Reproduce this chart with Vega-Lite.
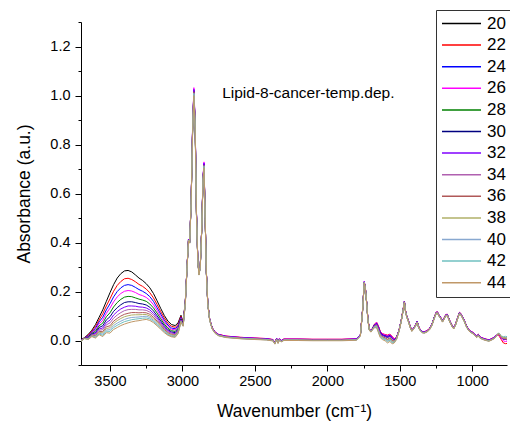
{
"$schema": "https://vega.github.io/schema/vega-lite/v6.json",
"width": 426, "height": 343,
"autosize": {"type": "none"},
"padding": {"left": 81, "top": 22, "right": 3, "bottom": 65},
"background": "white",
"config": {"font": "Liberation Sans", "view": {"stroke": null},
 "axis": {"grid": false, "domainColor": "#000", "tickColor": "#000", "labelColor": "#000", "titleColor": "#000", "labelFont": "Liberation Sans", "titleFont": "Liberation Sans", "titleFontWeight": "normal", "domainWidth": 1, "tickWidth": 1}},
"datasets": {"spectra": [
{"w":3700,"20":0.003,"22":0.002,"24":0.001,"26":0.001,"28":0,"30":-0.001,"32":-0.001,"34":-0.001,"36":-0.002,"38":-0.002,"40":-0.002,"42":-0.003,"44":-0.003},
{"w":3675,"20":0.012,"22":0.011,"24":0.011,"26":0.010,"28":0.010,"30":0.010,"32":0.009,"34":0.009,"36":0.009,"38":0.009,"40":0.008,"42":0.008,"44":0.008},
{"w":3650,"20":0.025,"22":0.022,"24":0.019,"26":0.017,"28":0.015,"30":0.012,"32":0.011,"34":0.009,"36":0.008,"38":0.007,"40":0.006,"42":0.005,"44":0.004},
{"w":3625,"20":0.042,"22":0.038,"24":0.035,"26":0.032,"28":0.029,"30":0.026,"32":0.024,"34":0.023,"36":0.021,"38":0.020,"40":0.018,"42":0.017,"44":0.016},
{"w":3600,"20":0.065,"22":0.057,"24":0.050,"26":0.044,"28":0.038,"30":0.032,"32":0.028,"34":0.024,"36":0.020,"38":0.017,"40":0.015,"42":0.012,"44":0.010},
{"w":3575,"20":0.095,"22":0.084,"24":0.076,"26":0.068,"28":0.060,"30":0.053,"32":0.047,"34":0.042,"36":0.037,"38":0.034,"40":0.030,"42":0.027,"44":0.024},
{"w":3550,"20":0.125,"22":0.109,"24":0.095,"26":0.083,"28":0.071,"30":0.060,"32":0.051,"34":0.044,"36":0.036,"38":0.031,"40":0.026,"42":0.021,"44":0.016},
{"w":3525,"20":0.160,"22":0.141,"24":0.125,"26":0.111,"28":0.097,"30":0.084,"32":0.073,"34":0.064,"36":0.056,"38":0.049,"40":0.043,"42":0.038,"44":0.032},
{"w":3500,"20":0.195,"22":0.170,"24":0.150,"26":0.132,"28":0.113,"30":0.097,"32":0.083,"34":0.072,"36":0.060,"38":0.052,"40":0.044,"42":0.037,"44":0.030},
{"w":3475,"20":0.228,"22":0.201,"24":0.178,"26":0.158,"28":0.137,"30":0.119,"32":0.104,"34":0.091,"36":0.079,"38":0.070,"40":0.061,"42":0.053,"44":0.045},
{"w":3450,"20":0.255,"22":0.225,"24":0.200,"26":0.178,"28":0.155,"30":0.134,"32":0.118,"34":0.104,"36":0.090,"38":0.081,"40":0.071,"42":0.062,"44":0.053},
{"w":3425,"20":0.273,"22":0.241,"24":0.215,"26":0.192,"28":0.168,"30":0.146,"32":0.129,"34":0.114,"36":0.100,"38":0.090,"40":0.079,"42":0.070,"44":0.061},
{"w":3400,"20":0.284,"22":0.252,"24":0.225,"26":0.201,"28":0.177,"30":0.155,"32":0.136,"34":0.122,"36":0.107,"38":0.097,"40":0.086,"42":0.077,"44":0.067},
{"w":3375,"20":0.286,"22":0.254,"24":0.228,"26":0.204,"28":0.180,"30":0.158,"32":0.141,"34":0.126,"36":0.111,"38":0.101,"40":0.091,"42":0.081,"44":0.072},
{"w":3350,"20":0.280,"22":0.249,"24":0.225,"26":0.202,"28":0.179,"30":0.158,"32":0.141,"34":0.127,"36":0.114,"38":0.104,"40":0.094,"42":0.085,"44":0.076},
{"w":3325,"20":0.268,"22":0.240,"24":0.217,"26":0.196,"28":0.174,"30":0.155,"32":0.140,"34":0.127,"36":0.114,"38":0.105,"40":0.095,"42":0.087,"44":0.079},
{"w":3300,"20":0.255,"22":0.229,"24":0.208,"26":0.188,"28":0.169,"30":0.151,"32":0.137,"34":0.125,"36":0.113,"38":0.105,"40":0.096,"42":0.089,"44":0.081},
{"w":3275,"20":0.245,"22":0.221,"24":0.201,"26":0.183,"28":0.165,"30":0.149,"32":0.136,"34":0.125,"36":0.114,"38":0.106,"40":0.098,"42":0.091,"44":0.084},
{"w":3250,"20":0.232,"22":0.210,"24":0.192,"26":0.176,"28":0.160,"30":0.145,"32":0.133,"34":0.123,"36":0.113,"38":0.106,"40":0.099,"42":0.092,"44":0.086},
{"w":3225,"20":0.215,"22":0.195,"24":0.179,"26":0.164,"28":0.149,"30":0.136,"32":0.125,"34":0.116,"36":0.107,"38":0.100,"40":0.094,"42":0.088,"44":0.082},
{"w":3200,"20":0.192,"22":0.174,"24":0.160,"26":0.146,"28":0.133,"30":0.121,"32":0.111,"34":0.103,"36":0.095,"38":0.089,"40":0.083,"42":0.078,"44":0.073},
{"w":3175,"20":0.162,"22":0.147,"24":0.134,"26":0.123,"28":0.112,"30":0.101,"32":0.093,"34":0.086,"36":0.079,"38":0.074,"40":0.069,"42":0.065,"44":0.060},
{"w":3150,"20":0.131,"22":0.118,"24":0.108,"26":0.098,"28":0.089,"30":0.080,"32":0.073,"34":0.067,"36":0.062,"38":0.058,"40":0.053,"42":0.050,"44":0.046},
{"w":3125,"20":0.102,"22":0.092,"24":0.083,"26":0.075,"28":0.067,"30":0.060,"32":0.054,"34":0.050,"36":0.045,"38":0.042,"40":0.038,"42":0.035,"44":0.032},
{"w":3100,"20":0.079,"22":0.070,"24":0.063,"26":0.057,"28":0.050,"30":0.044,"32":0.040,"34":0.036,"36":0.032,"38":0.029,"40":0.026,"42":0.024,"44":0.021},
{"w":3075,"20":0.065,"22":0.058,"24":0.051,"26":0.046,"28":0.040,"30":0.035,"32":0.031,"34":0.028,"36":0.024,"38":0.022,"40":0.019,"42":0.017,"44":0.015},
{"w":3050,"20":0.061,"22":0.054,"24":0.048,"26":0.043,"28":0.037,"30":0.032,"32":0.028,"34":0.025,"36":0.022,"38":0.020,"40":0.017,"42":0.015,"44":0.013},
{"w":3030,"20":0.072,"22":0.065,"24":0.060,"26":0.055,"28":0.050,"30":0.046,"32":0.042,"34":0.039,"36":0.036,"38":0.034,"40":0.032,"42":0.030,"44":0.028},
{"w":3010,"20":0.103,"22":0.099,"24":0.095,"26":0.092,"28":0.089,"30":0.086,"32":0.084,"34":0.082,"36":0.080,"38":0.079,"40":0.077,"42":0.076,"44":0.075},
{"w":2995,"20":0.075,"22":0.072,"24":0.070,"26":0.068,"28":0.067,"30":0.065,"32":0.063,"34":0.062,"36":0.061,"38":0.060,"40":0.059,"42":0.059,"44":0.058},
{"w":2980,"20":0.162,"22":0.160,"24":0.159,"26":0.158,"28":0.157,"30":0.156,"32":0.155,"34":0.154,"36":0.153,"38":0.152,"40":0.151,"42":0.150,"44":0.150},
{"w":2968,"20":0.302,"22":0.303,"24":0.301,"26":0.303,"28":0.300,"30":0.301,"32":0.302,"34":0.300,"36":0.299,"38":0.299,"40":0.298,"42":0.298,"44":0.297},
{"w":2958,"20":0.412,"22":0.413,"24":0.411,"26":0.413,"28":0.410,"30":0.411,"32":0.412,"34":0.410,"36":0.409,"38":0.409,"40":0.408,"42":0.408,"44":0.407},
{"w":2950,"20":0.402,"22":0.403,"24":0.401,"26":0.403,"28":0.400,"30":0.401,"32":0.402,"34":0.400,"36":0.399,"38":0.399,"40":0.398,"42":0.398,"44":0.397},
{"w":2940,"20":0.562,"22":0.563,"24":0.561,"26":0.563,"28":0.560,"30":0.561,"32":0.562,"34":0.560,"36":0.559,"38":0.559,"40":0.558,"42":0.558,"44":0.557},
{"w":2930,"20":0.847,"22":0.860,"24":0.864,"26":0.870,"28":0.856,"30":0.860,"32":0.864,"34":0.851,"36":0.856,"38":0.847,"40":0.851,"42":0.847,"44":0.843},
{"w":2921,"20":1.005,"22":1.020,"24":1.025,"26":1.032,"28":1.015,"30":1.020,"32":1.025,"34":1.010,"36":1.015,"38":1.005,"40":1.010,"42":1.005,"44":1.000},
{"w":2912,"20":0.867,"22":0.880,"24":0.884,"26":0.891,"28":0.876,"30":0.880,"32":0.884,"34":0.871,"36":0.876,"38":0.867,"40":0.871,"42":0.867,"44":0.862},
{"w":2903,"20":0.512,"22":0.520,"24":0.523,"26":0.526,"28":0.517,"30":0.520,"32":0.523,"34":0.515,"36":0.517,"38":0.512,"40":0.515,"42":0.512,"44":0.510},
{"w":2894,"20":0.332,"22":0.333,"24":0.331,"26":0.333,"28":0.330,"30":0.331,"32":0.332,"34":0.330,"36":0.329,"38":0.329,"40":0.328,"42":0.328,"44":0.327},
{"w":2886,"20":0.272,"22":0.273,"24":0.271,"26":0.273,"28":0.270,"30":0.271,"32":0.272,"34":0.270,"36":0.269,"38":0.269,"40":0.268,"42":0.268,"44":0.267},
{"w":2877,"20":0.302,"22":0.303,"24":0.301,"26":0.303,"28":0.300,"30":0.301,"32":0.302,"34":0.300,"36":0.299,"38":0.299,"40":0.298,"42":0.298,"44":0.297},
{"w":2867,"20":0.452,"22":0.453,"24":0.451,"26":0.453,"28":0.450,"30":0.451,"32":0.452,"34":0.450,"36":0.449,"38":0.449,"40":0.448,"42":0.448,"44":0.447},
{"w":2858,"20":0.650,"22":0.660,"24":0.663,"26":0.668,"28":0.657,"30":0.660,"32":0.663,"34":0.653,"36":0.657,"38":0.650,"40":0.653,"42":0.650,"44":0.647},
{"w":2851,"20":0.709,"22":0.720,"24":0.724,"26":0.729,"28":0.716,"30":0.720,"32":0.724,"34":0.713,"36":0.716,"38":0.709,"40":0.713,"42":0.709,"44":0.706},
{"w":2843,"20":0.502,"22":0.503,"24":0.501,"26":0.503,"28":0.500,"30":0.501,"32":0.502,"34":0.500,"36":0.499,"38":0.499,"40":0.498,"42":0.498,"44":0.497},
{"w":2835,"20":0.282,"22":0.283,"24":0.281,"26":0.283,"28":0.280,"30":0.281,"32":0.282,"34":0.280,"36":0.279,"38":0.279,"40":0.278,"42":0.278,"44":0.277},
{"w":2825,"20":0.152,"22":0.153,"24":0.151,"26":0.153,"28":0.150,"30":0.151,"32":0.152,"34":0.150,"36":0.149,"38":0.149,"40":0.148,"42":0.148,"44":0.147},
{"w":2812,"20":0.087,"22":0.088,"24":0.086,"26":0.088,"28":0.085,"30":0.086,"32":0.087,"34":0.085,"36":0.084,"38":0.084,"40":0.083,"42":0.083,"44":0.082},
{"w":2795,"20":0.052,"22":0.053,"24":0.051,"26":0.053,"28":0.050,"30":0.051,"32":0.052,"34":0.050,"36":0.049,"38":0.049,"40":0.048,"42":0.048,"44":0.047},
{"w":2775,"20":0.034,"22":0.035,"24":0.033,"26":0.035,"28":0.032,"30":0.033,"32":0.034,"34":0.032,"36":0.031,"38":0.031,"40":0.030,"42":0.030,"44":0.029},
{"w":2750,"20":0.024,"22":0.025,"24":0.023,"26":0.025,"28":0.022,"30":0.023,"32":0.024,"34":0.022,"36":0.021,"38":0.021,"40":0.020,"42":0.020,"44":0.019},
{"w":2700,"20":0.017,"22":0.018,"24":0.016,"26":0.018,"28":0.015,"30":0.016,"32":0.017,"34":0.015,"36":0.014,"38":0.014,"40":0.013,"42":0.013,"44":0.012},
{"w":2600,"20":0.012,"22":0.013,"24":0.011,"26":0.013,"28":0.010,"30":0.011,"32":0.012,"34":0.010,"36":0.009,"38":0.009,"40":0.008,"42":0.008,"44":0.007},
{"w":2500,"20":0.009,"22":0.010,"24":0.008,"26":0.010,"28":0.007,"30":0.008,"32":0.009,"34":0.007,"36":0.006,"38":0.006,"40":0.005,"42":0.005,"44":0.004},
{"w":2420,"20":0.007,"22":0.008,"24":0.006,"26":0.008,"28":0.005,"30":0.006,"32":0.007,"34":0.005,"36":0.004,"38":0.004,"40":0.003,"42":0.003,"44":0.002},
{"w":2375,"20":0.003,"22":0.004,"24":0.002,"26":0.004,"28":0.001,"30":0.002,"32":0.003,"34":0.001,"36":0.000,"38":0.000,"40":-0.001,"42":-0.001,"44":-0.002},
{"w":2362,"20":-0.010,"22":-0.009,"24":-0.011,"26":-0.009,"28":-0.012,"30":-0.011,"32":-0.010,"34":-0.012,"36":-0.013,"38":-0.013,"40":-0.014,"42":-0.014,"44":-0.015},
{"w":2350,"20":0.008,"22":0.009,"24":0.007,"26":0.009,"28":0.006,"30":0.007,"32":0.008,"34":0.006,"36":0.005,"38":0.005,"40":0.004,"42":0.004,"44":0.003},
{"w":2340,"20":-0.007,"22":-0.006,"24":-0.008,"26":-0.006,"28":-0.009,"30":-0.008,"32":-0.007,"34":-0.009,"36":-0.010,"38":-0.010,"40":-0.011,"42":-0.011,"44":-0.012},
{"w":2330,"20":0.007,"22":0.008,"24":0.006,"26":0.008,"28":0.005,"30":0.006,"32":0.007,"34":0.005,"36":0.004,"38":0.004,"40":0.003,"42":0.003,"44":0.002},
{"w":2318,"20":-0.001,"22":0.000,"24":-0.002,"26":0.000,"28":-0.003,"30":-0.002,"32":-0.001,"34":-0.003,"36":-0.004,"38":-0.004,"40":-0.005,"42":-0.005,"44":-0.006},
{"w":2300,"20":0.005,"22":0.006,"24":0.004,"26":0.006,"28":0.003,"30":0.004,"32":0.005,"34":0.003,"36":0.002,"38":0.002,"40":0.001,"42":0.001,"44":0.000},
{"w":2200,"20":0.005,"22":0.006,"24":0.004,"26":0.006,"28":0.003,"30":0.004,"32":0.005,"34":0.003,"36":0.002,"38":0.002,"40":0.001,"42":0.001,"44":0.000},
{"w":2100,"20":0.004,"22":0.005,"24":0.003,"26":0.005,"28":0.002,"30":0.003,"32":0.004,"34":0.002,"36":0.001,"38":0.001,"40":0.000,"42":0.000,"44":-0.001},
{"w":2000,"20":0.004,"22":0.005,"24":0.003,"26":0.005,"28":0.002,"30":0.003,"32":0.004,"34":0.002,"36":0.001,"38":0.001,"40":0.000,"42":0.000,"44":-0.001},
{"w":1900,"20":0.004,"22":0.005,"24":0.003,"26":0.005,"28":0.002,"30":0.003,"32":0.004,"34":0.002,"36":0.001,"38":0.001,"40":0.000,"42":0.000,"44":-0.001},
{"w":1800,"20":0.006,"22":0.007,"24":0.005,"26":0.007,"28":0.004,"30":0.005,"32":0.006,"34":0.004,"36":0.003,"38":0.003,"40":0.002,"42":0.002,"44":0.001},
{"w":1772,"20":0.022,"22":0.023,"24":0.021,"26":0.023,"28":0.020,"30":0.021,"32":0.022,"34":0.020,"36":0.019,"38":0.019,"40":0.018,"42":0.018,"44":0.017},
{"w":1757,"20":0.122,"22":0.123,"24":0.121,"26":0.123,"28":0.120,"30":0.121,"32":0.122,"34":0.120,"36":0.119,"38":0.119,"40":0.118,"42":0.118,"44":0.117},
{"w":1745,"20":0.236,"22":0.239,"24":0.240,"26":0.241,"28":0.238,"30":0.239,"32":0.240,"34":0.237,"36":0.238,"38":0.236,"40":0.237,"42":0.236,"44":0.235},
{"w":1737,"20":0.212,"22":0.213,"24":0.211,"26":0.213,"28":0.210,"30":0.211,"32":0.212,"34":0.210,"36":0.209,"38":0.209,"40":0.208,"42":0.208,"44":0.207},
{"w":1728,"20":0.152,"22":0.153,"24":0.151,"26":0.153,"28":0.150,"30":0.151,"32":0.152,"34":0.150,"36":0.149,"38":0.149,"40":0.148,"42":0.148,"44":0.147},
{"w":1720,"20":0.087,"22":0.088,"24":0.086,"26":0.088,"28":0.085,"30":0.086,"32":0.087,"34":0.085,"36":0.084,"38":0.084,"40":0.083,"42":0.083,"44":0.082},
{"w":1710,"20":0.047,"22":0.048,"24":0.046,"26":0.048,"28":0.045,"30":0.046,"32":0.047,"34":0.045,"36":0.044,"38":0.044,"40":0.043,"42":0.043,"44":0.042},
{"w":1700,"20":0.039,"22":0.040,"24":0.038,"26":0.040,"28":0.037,"30":0.038,"32":0.039,"34":0.037,"36":0.036,"38":0.036,"40":0.035,"42":0.035,"44":0.034},
{"w":1688,"20":0.050,"22":0.050,"24":0.049,"26":0.050,"28":0.048,"30":0.048,"32":0.048,"34":0.047,"36":0.046,"38":0.045,"40":0.045,"42":0.044,"44":0.043},
{"w":1675,"20":0.065,"22":0.066,"24":0.064,"26":0.065,"28":0.062,"30":0.063,"32":0.062,"34":0.059,"36":0.058,"38":0.057,"40":0.056,"42":0.054,"44":0.052},
{"w":1660,"20":0.073,"22":0.075,"24":0.072,"26":0.074,"28":0.068,"30":0.069,"32":0.069,"34":0.064,"36":0.062,"38":0.060,"40":0.058,"42":0.055,"44":0.052},
{"w":1648,"20":0.058,"22":0.060,"24":0.056,"26":0.059,"28":0.052,"30":0.053,"32":0.052,"34":0.047,"36":0.045,"38":0.042,"40":0.040,"42":0.037,"44":0.033},
{"w":1635,"20":0.036,"22":0.038,"24":0.034,"26":0.037,"28":0.030,"30":0.032,"32":0.031,"34":0.025,"36":0.024,"38":0.021,"40":0.019,"42":0.016,"44":0.012},
{"w":1620,"20":0.026,"22":0.028,"24":0.024,"26":0.027,"28":0.021,"30":0.022,"32":0.021,"34":0.016,"36":0.015,"38":0.012,"40":0.010,"42":0.008,"44":0.004},
{"w":1600,"20":0.022,"22":0.024,"24":0.020,"26":0.023,"28":0.016,"30":0.018,"32":0.017,"34":0.011,"36":0.010,"38":0.007,"40":0.005,"42":0.002,"44":-0.002},
{"w":1585,"20":0.020,"22":0.022,"24":0.017,"26":0.020,"28":0.012,"30":0.014,"32":0.013,"34":0.006,"36":0.004,"38":0.001,"40":-0.002,"42":-0.005,"44":-0.010},
{"w":1568,"20":0.024,"22":0.026,"24":0.022,"26":0.025,"28":0.017,"30":0.019,"32":0.018,"34":0.011,"36":0.010,"38":0.007,"40":0.004,"42":0.001,"44":-0.004},
{"w":1552,"20":0.014,"22":0.016,"24":0.012,"26":0.015,"28":0.007,"30":0.009,"32":0.008,"34":0.001,"36":0.000,"38":-0.004,"40":-0.007,"42":-0.010,"44":-0.014},
{"w":1538,"20":0.005,"22":0.006,"24":0.004,"26":0.005,"28":0.001,"30":0.002,"32":0.002,"34":-0.002,"36":-0.003,"38":-0.004,"40":-0.006,"42":-0.008,"44":-0.010},
{"w":1522,"20":0.013,"22":0.014,"24":0.013,"26":0.014,"28":0.011,"30":0.012,"32":0.011,"34":0.009,"36":0.009,"38":0.008,"40":0.007,"42":0.006,"44":0.004},
{"w":1505,"20":0.042,"22":0.043,"24":0.041,"26":0.043,"28":0.040,"30":0.041,"32":0.042,"34":0.040,"36":0.039,"38":0.039,"40":0.038,"42":0.038,"44":0.037},
{"w":1490,"20":0.082,"22":0.083,"24":0.081,"26":0.083,"28":0.080,"30":0.081,"32":0.082,"34":0.080,"36":0.079,"38":0.079,"40":0.078,"42":0.078,"44":0.077},
{"w":1478,"20":0.122,"22":0.123,"24":0.121,"26":0.123,"28":0.120,"30":0.121,"32":0.122,"34":0.120,"36":0.119,"38":0.119,"40":0.118,"42":0.118,"44":0.117},
{"w":1468,"20":0.157,"22":0.159,"24":0.160,"26":0.161,"28":0.158,"30":0.159,"32":0.160,"34":0.157,"36":0.158,"38":0.156,"40":0.157,"42":0.156,"44":0.155},
{"w":1460,"20":0.120,"22":0.121,"24":0.119,"26":0.121,"28":0.118,"30":0.119,"32":0.120,"34":0.118,"36":0.117,"38":0.117,"40":0.116,"42":0.116,"44":0.115},
{"w":1452,"20":0.100,"22":0.101,"24":0.099,"26":0.101,"28":0.098,"30":0.099,"32":0.100,"34":0.098,"36":0.097,"38":0.097,"40":0.096,"42":0.096,"44":0.095},
{"w":1440,"20":0.080,"22":0.081,"24":0.079,"26":0.081,"28":0.078,"30":0.079,"32":0.080,"34":0.078,"36":0.077,"38":0.077,"40":0.076,"42":0.076,"44":0.075},
{"w":1428,"20":0.057,"22":0.058,"24":0.056,"26":0.058,"28":0.055,"30":0.056,"32":0.057,"34":0.055,"36":0.054,"38":0.054,"40":0.053,"42":0.053,"44":0.052},
{"w":1417,"20":0.042,"22":0.043,"24":0.041,"26":0.043,"28":0.040,"30":0.041,"32":0.042,"34":0.040,"36":0.039,"38":0.039,"40":0.038,"42":0.038,"44":0.037},
{"w":1405,"20":0.050,"22":0.051,"24":0.049,"26":0.051,"28":0.048,"30":0.049,"32":0.050,"34":0.048,"36":0.047,"38":0.047,"40":0.046,"42":0.046,"44":0.045},
{"w":1392,"20":0.062,"22":0.063,"24":0.061,"26":0.063,"28":0.060,"30":0.061,"32":0.062,"34":0.060,"36":0.059,"38":0.059,"40":0.058,"42":0.058,"44":0.057},
{"w":1380,"20":0.078,"22":0.079,"24":0.077,"26":0.079,"28":0.076,"30":0.077,"32":0.078,"34":0.076,"36":0.075,"38":0.075,"40":0.074,"42":0.074,"44":0.073},
{"w":1372,"20":0.060,"22":0.061,"24":0.059,"26":0.061,"28":0.058,"30":0.059,"32":0.060,"34":0.058,"36":0.057,"38":0.057,"40":0.056,"42":0.056,"44":0.055},
{"w":1362,"20":0.047,"22":0.048,"24":0.046,"26":0.048,"28":0.045,"30":0.046,"32":0.047,"34":0.045,"36":0.044,"38":0.044,"40":0.043,"42":0.043,"44":0.042},
{"w":1345,"20":0.036,"22":0.037,"24":0.035,"26":0.037,"28":0.034,"30":0.035,"32":0.036,"34":0.034,"36":0.033,"38":0.033,"40":0.032,"42":0.032,"44":0.031},
{"w":1330,"20":0.035,"22":0.036,"24":0.034,"26":0.036,"28":0.033,"30":0.034,"32":0.035,"34":0.033,"36":0.032,"38":0.032,"40":0.031,"42":0.031,"44":0.030},
{"w":1313,"20":0.039,"22":0.040,"24":0.038,"26":0.040,"28":0.037,"30":0.038,"32":0.039,"34":0.037,"36":0.036,"38":0.036,"40":0.035,"42":0.035,"44":0.034},
{"w":1295,"20":0.048,"22":0.049,"24":0.047,"26":0.049,"28":0.046,"30":0.047,"32":0.048,"34":0.046,"36":0.045,"38":0.045,"40":0.044,"42":0.044,"44":0.043},
{"w":1278,"20":0.066,"22":0.067,"24":0.065,"26":0.067,"28":0.064,"30":0.065,"32":0.066,"34":0.064,"36":0.063,"38":0.063,"40":0.062,"42":0.062,"44":0.061},
{"w":1262,"20":0.094,"22":0.095,"24":0.093,"26":0.095,"28":0.092,"30":0.093,"32":0.094,"34":0.092,"36":0.091,"38":0.091,"40":0.090,"42":0.090,"44":0.089},
{"w":1248,"20":0.115,"22":0.116,"24":0.114,"26":0.116,"28":0.113,"30":0.114,"32":0.115,"34":0.113,"36":0.112,"38":0.112,"40":0.111,"42":0.111,"44":0.110},
{"w":1240,"20":0.116,"22":0.117,"24":0.115,"26":0.117,"28":0.114,"30":0.115,"32":0.116,"34":0.114,"36":0.113,"38":0.113,"40":0.112,"42":0.112,"44":0.111},
{"w":1230,"20":0.104,"22":0.105,"24":0.103,"26":0.105,"28":0.102,"30":0.103,"32":0.104,"34":0.102,"36":0.101,"38":0.101,"40":0.100,"42":0.100,"44":0.099},
{"w":1218,"20":0.094,"22":0.095,"24":0.093,"26":0.095,"28":0.092,"30":0.093,"32":0.094,"34":0.092,"36":0.091,"38":0.091,"40":0.090,"42":0.090,"44":0.089},
{"w":1205,"20":0.080,"22":0.081,"24":0.079,"26":0.081,"28":0.078,"30":0.079,"32":0.080,"34":0.078,"36":0.077,"38":0.077,"40":0.076,"42":0.076,"44":0.075},
{"w":1195,"20":0.090,"22":0.091,"24":0.089,"26":0.091,"28":0.088,"30":0.089,"32":0.090,"34":0.088,"36":0.087,"38":0.087,"40":0.086,"42":0.086,"44":0.085},
{"w":1182,"20":0.105,"22":0.106,"24":0.104,"26":0.106,"28":0.103,"30":0.104,"32":0.105,"34":0.103,"36":0.102,"38":0.102,"40":0.101,"42":0.101,"44":0.100},
{"w":1172,"20":0.106,"22":0.107,"24":0.105,"26":0.107,"28":0.104,"30":0.105,"32":0.106,"34":0.104,"36":0.103,"38":0.103,"40":0.102,"42":0.102,"44":0.101},
{"w":1160,"20":0.087,"22":0.088,"24":0.086,"26":0.088,"28":0.085,"30":0.086,"32":0.087,"34":0.085,"36":0.084,"38":0.084,"40":0.083,"42":0.083,"44":0.082},
{"w":1150,"20":0.074,"22":0.075,"24":0.073,"26":0.075,"28":0.072,"30":0.073,"32":0.074,"34":0.072,"36":0.071,"38":0.071,"40":0.070,"42":0.070,"44":0.069},
{"w":1138,"20":0.060,"22":0.061,"24":0.059,"26":0.061,"28":0.058,"30":0.059,"32":0.060,"34":0.058,"36":0.057,"38":0.057,"40":0.056,"42":0.056,"44":0.055},
{"w":1128,"20":0.052,"22":0.053,"24":0.051,"26":0.053,"28":0.050,"30":0.051,"32":0.052,"34":0.050,"36":0.049,"38":0.049,"40":0.048,"42":0.048,"44":0.047},
{"w":1115,"20":0.067,"22":0.068,"24":0.066,"26":0.068,"28":0.065,"30":0.066,"32":0.067,"34":0.065,"36":0.064,"38":0.064,"40":0.063,"42":0.063,"44":0.062},
{"w":1100,"20":0.094,"22":0.095,"24":0.093,"26":0.095,"28":0.092,"30":0.093,"32":0.094,"34":0.092,"36":0.091,"38":0.091,"40":0.090,"42":0.090,"44":0.089},
{"w":1088,"20":0.114,"22":0.115,"24":0.113,"26":0.115,"28":0.112,"30":0.113,"32":0.114,"34":0.112,"36":0.111,"38":0.111,"40":0.110,"42":0.110,"44":0.109},
{"w":1080,"20":0.110,"22":0.111,"24":0.109,"26":0.111,"28":0.108,"30":0.109,"32":0.110,"34":0.108,"36":0.107,"38":0.107,"40":0.106,"42":0.106,"44":0.105},
{"w":1068,"20":0.097,"22":0.098,"24":0.096,"26":0.098,"28":0.095,"30":0.096,"32":0.097,"34":0.095,"36":0.094,"38":0.094,"40":0.093,"42":0.093,"44":0.092},
{"w":1055,"20":0.082,"22":0.083,"24":0.081,"26":0.083,"28":0.080,"30":0.081,"32":0.082,"34":0.080,"36":0.079,"38":0.079,"40":0.078,"42":0.078,"44":0.077},
{"w":1040,"20":0.060,"22":0.061,"24":0.059,"26":0.061,"28":0.058,"30":0.059,"32":0.060,"34":0.058,"36":0.057,"38":0.057,"40":0.056,"42":0.056,"44":0.055},
{"w":1025,"20":0.045,"22":0.046,"24":0.044,"26":0.046,"28":0.043,"30":0.044,"32":0.045,"34":0.043,"36":0.042,"38":0.042,"40":0.041,"42":0.041,"44":0.040},
{"w":1012,"20":0.038,"22":0.039,"24":0.037,"26":0.039,"28":0.036,"30":0.037,"32":0.038,"34":0.036,"36":0.035,"38":0.035,"40":0.034,"42":0.034,"44":0.033},
{"w":995,"20":0.032,"22":0.033,"24":0.031,"26":0.033,"28":0.030,"30":0.031,"32":0.032,"34":0.030,"36":0.029,"38":0.029,"40":0.028,"42":0.028,"44":0.027},
{"w":985,"20":0.027,"22":0.028,"24":0.026,"26":0.028,"28":0.025,"30":0.026,"32":0.027,"34":0.025,"36":0.024,"38":0.024,"40":0.023,"42":0.023,"44":0.022},
{"w":970,"20":0.017,"22":0.018,"24":0.016,"26":0.018,"28":0.015,"30":0.016,"32":0.017,"34":0.015,"36":0.014,"38":0.014,"40":0.013,"42":0.013,"44":0.012},
{"w":958,"20":0.024,"22":0.025,"24":0.023,"26":0.025,"28":0.022,"30":0.023,"32":0.024,"34":0.022,"36":0.021,"38":0.021,"40":0.020,"42":0.020,"44":0.019},
{"w":948,"20":0.015,"22":0.016,"24":0.014,"26":0.016,"28":0.013,"30":0.014,"32":0.015,"34":0.013,"36":0.012,"38":0.012,"40":0.011,"42":0.011,"44":0.010},
{"w":935,"20":0.011,"22":0.012,"24":0.010,"26":0.012,"28":0.009,"30":0.010,"32":0.011,"34":0.009,"36":0.008,"38":0.008,"40":0.007,"42":0.007,"44":0.006},
{"w":918,"20":0.007,"22":0.008,"24":0.006,"26":0.008,"28":0.005,"30":0.006,"32":0.007,"34":0.005,"36":0.004,"38":0.004,"40":0.003,"42":0.003,"44":0.002},
{"w":900,"20":0.004,"22":0.005,"24":0.003,"26":0.005,"28":0.002,"30":0.003,"32":0.004,"34":0.002,"36":0.001,"38":0.001,"40":0.000,"42":0.000,"44":-0.001},
{"w":885,"20":0.002,"22":0.003,"24":0.001,"26":0.003,"28":0.000,"30":0.001,"32":0.002,"34":0.000,"36":-0.001,"38":-0.001,"40":-0.002,"42":-0.002,"44":-0.003},
{"w":868,"20":0.006,"22":0.007,"24":0.005,"26":0.007,"28":0.004,"30":0.005,"32":0.006,"34":0.004,"36":0.003,"38":0.003,"40":0.002,"42":0.002,"44":0.001},
{"w":850,"20":0.012,"22":0.013,"24":0.011,"26":0.013,"28":0.010,"30":0.011,"32":0.012,"34":0.010,"36":0.009,"38":0.009,"40":0.008,"42":0.008,"44":0.007},
{"w":835,"20":0.020,"22":0.021,"24":0.019,"26":0.021,"28":0.018,"30":0.019,"32":0.020,"34":0.018,"36":0.017,"38":0.017,"40":0.016,"42":0.016,"44":0.015},
{"w":822,"20":0.026,"22":0.022,"24":0.026,"26":0.024,"28":0.027,"30":0.026,"32":0.026,"34":0.027,"36":0.027,"38":0.028,"40":0.028,"42":0.030,"44":0.028},
{"w":812,"20":0.024,"22":0.016,"24":0.023,"26":0.020,"28":0.025,"30":0.024,"32":0.024,"34":0.025,"36":0.025,"38":0.026,"40":0.027,"42":0.029,"44":0.027},
{"w":800,"20":0.014,"22":0.004,"24":0.012,"26":0.008,"28":0.014,"30":0.012,"32":0.012,"34":0.014,"36":0.013,"38":0.015,"40":0.016,"42":0.018,"44":0.016},
{"w":785,"20":0.008,"22":-0.010,"24":0.006,"26":-0.002,"28":0.008,"30":0.006,"32":0.006,"34":0.009,"36":0.008,"38":0.010,"40":0.012,"42":0.016,"44":0.012},
{"w":770,"20":0.006,"22":-0.013,"24":0.004,"26":-0.004,"28":0.006,"30":0.005,"32":0.004,"34":0.008,"36":0.006,"38":0.010,"40":0.012,"42":0.017,"44":0.011},
{"w":760,"20":0.005,"22":-0.012,"24":0.003,"26":-0.003,"28":0.005,"30":0.004,"32":0.004,"34":0.007,"36":0.005,"38":0.009,"40":0.011,"42":0.016,"44":0.010}
]},
"layer": [
 {
  "data": {"name": "spectra"},
  "transform": [{"fold": ["20","22","24","26","28","30","32","34","36","38","40","42","44"], "as": ["T","A"]}],
  "mark": {"type": "line", "strokeWidth": 1, "clip": true},
  "encoding": {
   "x": {"field": "w", "type": "quantitative",
     "scale": {"domain": [3700, 760], "nice": false, "zero": false},
     "axis": {"values": [3500,3000,2500,2000,1500,1000], "format": "d", "title": "Wavenumber (cm⁻¹)", "titleFontSize": 17.5, "labelFontSize": 14.5, "tickSize": 6, "labelPadding": 3, "titlePadding": 15, "orient": "bottom"}},
   "y": {"field": "A", "type": "quantitative",
     "scale": {"domain": [-0.1, 1.3], "nice": false, "zero": false},
     "axis": {"values": [0,0.2,0.4,0.6,0.8,1.0,1.2], "format": ".1f", "title": "Absorbance (a.u.)", "titleFontSize": 17.5, "labelFontSize": 14.5, "tickSize": 6, "labelPadding": 5, "titlePadding": 16, "orient": "left"}},
   "color": {"field": "T", "type": "nominal",
     "scale": {"domain": ["20","22","24","26","28","30","32","34","36","38","40","42","44"],
               "range": ["#000000","#FF0000","#0000FF","#FF00FF","#008000","#000080","#8000FF","#B060B0","#B05858","#B0B068","#88A8D0","#70C0C0","#C09868"]},
     "legend": {"orient": "none", "legendX": 355, "legendY": -12, "title": null, "symbolType": "stroke", "symbolSize": 1521, "symbolStrokeWidth": 1.5, "clipHeight": 17, "labelFontSize": 17, "labelOffset": 5, "rowPadding": 3.6, "padding": 5, "strokeColor": "#333", "fillColor": "white", "labelColor": "#000", "labelFont": "Liberation Sans"}}
  }
 },
 {
  "data": {"values": [{"w": 2726, "A": 0.99, "label": "Lipid-8-cancer-temp.dep."}]},
  "mark": {"type": "text", "align": "left", "baseline": "alphabetic", "fontSize": 15.5, "font": "Liberation Sans", "color": "#000"},
  "encoding": {
   "x": {"field": "w", "type": "quantitative", "scale": {"domain": [3700, 760], "nice": false, "zero": false},
     "axis": {"values": [3250,2750,2250,1750,1250], "labels": false, "domain": false, "tickSize": 3, "title": null, "orient": "bottom"}},
   "y": {"field": "A", "type": "quantitative", "scale": {"domain": [-0.1, 1.3], "nice": false, "zero": false},
     "axis": {"values": [-0.1,0.1,0.3,0.5,0.7,0.9,1.1,1.3], "labels": false, "domain": false, "tickSize": 3, "title": null, "orient": "left"}},
   "text": {"field": "label"}
  }
 }
],
"resolve": {"axis": {"x": "independent", "y": "independent"}}
}
